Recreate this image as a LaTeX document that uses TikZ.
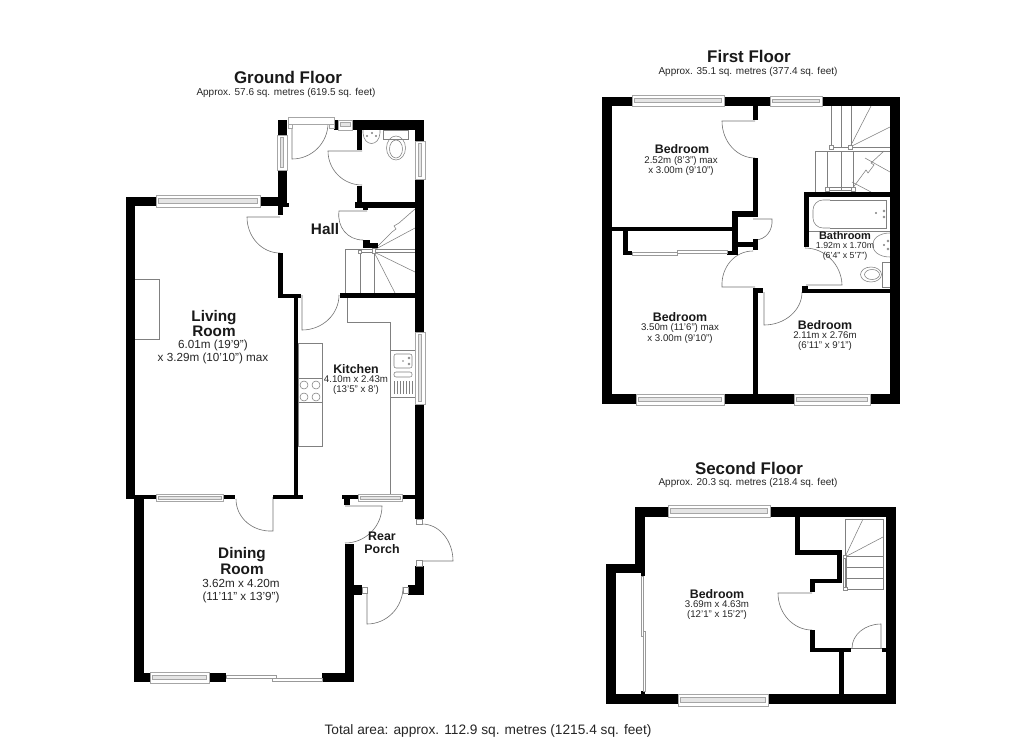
\documentclass[tikz,border=0pt]{standalone}
\usepackage{fontspec}
\setmainfont{Liberation Sans}
\usetikzlibrary{calc}
\tikzset{
  wallfill/.style={fill=black},
  thinline/.style={draw=black!50,line width=0.55pt},
  fixture/.style={draw=black!50,line width=0.55pt},
  doorline/.style={draw=black!55,line width=0.6pt},
  wframe/.style={draw=black!35,fill=white,line width=0.55pt},
  wpane/.style={draw=black!35,fill=black!10,line width=0.4pt},
  slide/.style={draw=black!40,fill=white,line width=0.5pt},
  jamb/.style={draw=black!45,fill=white,line width=0.5pt},
  titletext/.style={font=\fontsize{16.9}{19}\selectfont\bfseries,text=black!90,inner sep=0},
  subtext/.style={font=\fontsize{10}{12}\selectfont,text=black!85,inner sep=0},
  roomlg/.style={font=\fontsize{15.3}{15.5}\selectfont\bfseries,text=black!90,align=center,inner sep=0},
  roomsm/.style={font=\fontsize{12.4}{12.5}\selectfont\bfseries,text=black!90,align=center,inner sep=0},
  dimlg/.style={font=\fontsize{11.7}{13}\selectfont,text=black!85,align=center,inner sep=0},
  dimsm/.style={font=\fontsize{9.7}{10.2}\selectfont,text=black!85,align=center,inner sep=0},
  bathname/.style={font=\fontsize{11}{12}\selectfont\bfseries,text=black!90,inner sep=0},
  bathdim/.style={font=\fontsize{8.8}{10}\selectfont,text=black!85,align=center,inner sep=0},
  totaltext/.style={font=\fontsize{13.7}{15}\selectfont,text=black!85,inner sep=0},
}
\newcommand\wl[4]{\fill[wallfill] (#1,#2) rectangle (#3,#4);}
\newcommand\winh[4]{\draw[wframe] (#1,#2) rectangle (#3,#4);
  \draw[wpane] ($(#1,#2)+(2.5,3)$) rectangle ($(#3,#4)+(-2.5,-4)$);}
\newcommand\winv[4]{\draw[wframe] (#1,#2) rectangle (#3,#4);
  \draw[wpane] ($(#1,#2)+(3,2.5)$) rectangle ($(#3,#4)+(-4,-2.5)$);}
% hinge, leaf end, arc end
\newcommand\drr[6]{\draw[doorline] (#1,#2) -- (#3,#4)
  .. controls ($(#3,#4)!0.5523!(#3+#5-#1,#4+#6-#2)$) and ($(#5,#6)!0.5523!(#3+#5-#1,#4+#6-#2)$) .. (#5,#6);}
\begin{document}
\begin{tikzpicture}[x=1pt,y=-1pt]
\useasboundingbox (0,0) rectangle (1024,744);
\fill[white] (0,0) rectangle (1024,744);

% ---------- titles
\node[titletext] (gt) at (288,77.5) {Ground Floor};
\node[subtext] (gs) at (286,93) {Approx. 57.6 sq. metres (619.5 sq. feet)};
\node[titletext] (ft) at (749,56) {First Floor};
\node[subtext] (fs) at (748,72) {Approx. 35.1 sq. metres (377.4 sq. feet)};
\node[titletext] (st) at (749,468) {Second Floor};
\node[subtext] (ss) at (748,483) {Approx. 20.3 sq. metres (218.4 sq. feet)};
\node[totaltext] (tot) at (488,731) {Total area: approx. 112.9 sq. metres (1215.4 sq. feet)};

% ========== GROUND FLOOR
% chimney breast
\draw[fixture] (135,279) -- (159,279) -- (159,339) -- (135,339);
% kitchen run
\draw[fixture] (347,298) -- (347,322) -- (390,322) -- (390,495);
\draw[fixture] (298,343) rectangle (322,446);
\draw[fixture] (298,378) -- (322,378) (298,402) -- (322,402);
\foreach \cx in {304,316}\foreach \cy in {385,397}\draw[fixture] (\cx,\cy) circle (4pt);
\draw[fixture] (390,350) rectangle (415,397);
\draw[fixture,rounded corners=2pt] (394,354) rectangle (412,368);
\draw[fixture,rounded corners=2pt] (394,372) rectangle (412,377);
\foreach \dx in {394,397,...,412}\draw[fixture,line width=0.4pt] (\dx,381) -- (\dx,394);
\draw[fixture,line width=0.4pt] (403,361) circle (0.7pt) (409,358) circle (1pt) (409,364) circle (1pt);
% ground stairs
\draw[fixture] (345,293) -- (345,249) -- (415,249);
\draw[fixture] (374,252) -- (415,252);
\draw[fixture] (360,252) -- (360,293) (374,252) -- (374,293);
\draw[fixture] (360,252) -- (374,252);
\draw[fixture] (374,250) -- (392,232) -- (396,229) -- (394,226) -- (399,223) (399,223) -- (415,209);
\draw[fixture] (374,250) -- (415,228);
\draw[fixture] (374,252) -- (415,272);
\draw[fixture] (374,252) -- (395,293);
\draw[jamb] (358.5,250.5) rectangle (361.5,253.5);
\draw[jamb] (372.5,248.5) rectangle (375.5,253.5);
% WC
\draw[fixture] (363,130) -- (363,133) .. controls (364,147) and (379,147) .. (380,133) -- (380,130);
\draw[fixture] (372,133) circle (0.7pt) (367,136) circle (0.7pt) (376,136) circle (0.7pt);
\draw[fixture] (383,130) rectangle (408,139);
\draw[fixture] (396,148) ellipse [x radius=9.5pt,y radius=12pt];
\draw[fixture] (396,149) ellipse [x radius=6.5pt,y radius=9pt];
% doors ground
\drr{292}{123}{292}{159}{328}{123}
\drr{362}{151}{328}{151}{362}{185}
\drr{367}{211}{339}{211}{363}{240}
\drr{280}{217}{247}{217}{280}{253}
\drr{302}{295}{302}{330}{339}{295}
\drr{273}{497}{273}{531}{236}{499}
\drr{345}{506}{382}{506}{345}{543}
\drr{422}{561}{453}{561}{422}{524}
\drr{367}{587}{367}{624}{403}{587}
% walls ground
\wl{126}{197}{135}{499}
\wl{126}{197}{156}{206}
\wl{260}{197}{287}{206}
\wl{278}{120}{287}{135}
\wl{278}{170}{287}{207}
\wl{278}{203}{289}{207}
\wl{278}{207}{283}{215}
\wl{278}{253}{283}{298}
\wl{278}{294}{301}{298}
\wl{294}{294}{298}{499}
\wl{126}{495}{156}{499}
\wl{223}{495}{235}{499}
\wl{273}{495}{303}{499}
\wl{134}{499}{144}{682}
\wl{134}{673}{150}{682}
\wl{209}{673}{226}{682}
\wl{322}{673}{354}{682}
\wl{345}{544}{354}{682}
\wl{345}{585}{362}{595}
\wl{334}{120}{338}{130}
\wl{352}{120}{424}{130}
\wl{415}{120}{424}{141}
\wl{415}{179}{424}{332}
\wl{415}{404}{424}{519}
\wl{342}{495}{358}{499}
\wl{344}{499}{350}{505}
\wl{402}{495}{415}{499}
\wl{357}{130}{362}{150}
\wl{357}{186}{362}{205}
\wl{355}{202}{415}{208}
\wl{363}{208}{368}{210}
\wl{363}{240}{370}{248}
\wl{370}{243}{378}{248}
\wl{340}{293}{415}{298}
\wl{415}{566}{424}{595}
\wl{408}{585}{424}{595}
% windows ground
\winh{156}{195}{260}{207}
\winv{277}{135}{287}{170}
\winv{415}{141}{425}{179}
\winv{415}{332}{425}{404}
\draw[wframe] (288,117) rectangle (334,124);
\draw[wframe] (288,124) rectangle (292,128);
\draw[wframe] (329,124) rectangle (334,128);
\draw[wframe] (338,120) rectangle (352,130);
\draw[wpane] (340,122) rectangle (350,126);
\draw[wframe] (156,494) rectangle (223,501);
\draw[wpane] (158,496) rectangle (221,499.5);
\draw[wframe] (358,494) rectangle (402,501);
\draw[wpane] (360,496) rectangle (400,499.5);
\winh{150}{672}{209}{683}
\draw[slide] (226,675) rectangle (276,678);
\draw[slide] (272,678) rectangle (322,681);
\draw[jamb] (416,519) rectangle (422,524);
\draw[jamb] (416,560) rectangle (422,566);
\draw[jamb] (362,587) rectangle (367,593);
\draw[jamb] (403,587) rectangle (408,593);
% ground labels
\node[roomlg] (hall) at (325,229) {Hall};
\node[roomlg] (liv) at (214,323.5) {Living\\Room};
\node[dimlg] (livd) at (213,352) {6.01m (19'9")\\x 3.29m (10'10") max};
\node[roomsm] (kit) at (356,369) {Kitchen};
\node[dimsm] (kitd) at (356,385.5) {4.10m x 2.43m\\(13'5" x 8')};
\node[roomlg] (din) at (242,561) {Dining\\Room};
\node[dimlg] (dind) at (241,591) {3.62m x 4.20m\\(11'11" x 13'9")};
\node[roomsm] (por) at (382,543) {Rear\\Porch};

% ========== FIRST FLOOR
% stairs
\draw[fixture] (831,106) -- (831,147) (841,106) -- (841,147) (851,106) -- (851,147);
\draw[fixture] (831,147) -- (890,147) (815,151) -- (890,151);
\draw[fixture] (815,151) -- (815,192);
\draw[fixture] (827,151) -- (827,190) (841,151) -- (841,190) (853,151) -- (853,190);
\draw[fixture] (850,147) -- (871,106) (850,147) -- (890,127);
\draw[fixture] (852,189) -- (866,170) -- (868,173) -- (874,165) -- (871,163) -- (884,151);
\draw[fixture] (852,182) -- (871,192);
\draw[fixture] (865,158) -- (890,172);
\draw[fixture] (827,187.5) rectangle (852,190.5);
\draw[jamb] (829,145) rectangle (833,149);
\draw[jamb] (848,145) rectangle (852,149);
\draw[jamb] (825,187) rectangle (829,191);
\draw[jamb] (851,187) rectangle (855,191);
% bathroom fittings
\draw[fixture] (809,231) -- (890,231);
\draw[fixture,rounded corners=10pt] (830,200) -- (813,200) -- (813,228) -- (830,228);
\draw[fixture] (830,200) -- (886,200) -- (886,228) -- (830,228);
\draw[fixture] (876,213) circle (0.8pt) (884,211) circle (1pt) (884,217) circle (1pt);
\draw[fixture] (890,233) .. controls (867,233) and (867,257) .. (890,257);
\draw[fixture] (884,245) circle (0.8pt) (888,241) circle (1pt) (888,249) circle (1pt);
\draw[fixture] (882,262) rectangle (890,287);
\draw[fixture] (871,274.5) ellipse [x radius=10.5pt,y radius=7.5pt];
\draw[fixture] (872,274.5) ellipse [x radius=7.5pt,y radius=5pt];
% doors first
\drr{755}{121}{722}{121}{755}{158}
\drr{753}{219}{772}{219}{755}{240}
\drr{755}{287}{722}{287}{753}{251}
\drr{764}{292}{764}{325}{802}{292}
\drr{806}{285}{842}{285}{805}{248}
% walls first
\wl{602}{97}{612}{404}
\wl{602}{97}{632}{106}
\wl{724}{97}{770}{106}
\wl{822}{97}{900}{106}
\wl{890}{97}{900}{404}
\wl{602}{394}{636}{404}
\wl{724}{394}{794}{404}
\wl{870}{394}{900}{404}
\wl{753}{106}{758}{120}
\wl{753}{158}{758}{217}
\wl{732}{211}{758}{217}
\wl{732}{211}{738}{255}
\wl{612}{227}{738}{231}
\wl{735}{242}{758}{247}
\wl{753}{239}{758}{250}
\wl{623}{231}{628}{255}
\wl{623}{251}{632}{255}
\wl{727}{251}{738}{255}
\wl{753}{288}{758}{394}
\wl{753}{288}{763}{293}
\wl{802}{289}{890}{293}
\wl{802}{286}{808}{293}
\wl{804}{192}{809}{247}
\wl{804}{192}{890}{197}
% windows first
\winh{632}{95}{724}{106}
\winh{770}{96}{822}{106}
\winh{636}{394}{724}{405}
\winh{794}{394}{870}{405}
\draw[slide] (632,252) rectangle (677,255);
\draw[slide] (677,250) rectangle (727,253);
% first labels
\node[roomsm] (b1) at (682,149) {Bedroom};
\node[dimsm] (b1d) at (681,166) {2.52m (8'3") max\\x 3.00m (9'10")};
\node[bathname] (ba) at (845,236) {Bathroom};
\node[bathdim] (bad) at (845,251.5) {1.92m x 1.70m\\(6'4" x 5'7")};
\node[roomsm] (b2) at (680,317) {Bedroom};
\node[dimsm] (b2d) at (680,333.5) {3.50m (11'6") max\\x 3.00m (9'10")};
\node[roomsm] (b3) at (825,325) {Bedroom};
\node[dimsm] (b3d) at (825,341.5) {2.11m x 2.76m\\(6'11" x 9'1")};

% ========== SECOND FLOOR
% stairs
\draw[fixture] (845,519) rectangle (883,589);
\draw[fixture] (845,556) -- (883,556) (845,567) -- (883,567) (845,578) -- (883,578);
\draw[fixture] (845,557) -- (863,519) (845,557) -- (883,537);
\draw[fixture] (843.5,556) rectangle (846.5,589);
\draw[jamb] (843.5,555) rectangle (846.5,558);
\draw[jamb] (843.5,587) rectangle (847,590.5);
% doors second
\drr{812}{593}{778}{593}{812}{630}
\drr{881}{648}{881}{624}{852}{648}
\draw[doorline] (851,648) -- (882,648);
% walls second
\wl{635}{507}{668}{517}
\wl{770}{507}{896}{517}
\wl{886}{507}{896}{704}
\wl{606}{694}{678}{704}
\wl{768}{694}{896}{704}
\wl{606}{564}{616}{704}
\wl{606}{564}{645}{573}
\wl{635}{507}{645}{573}
\wl{641}{573}{645}{576}
\wl{641}{691}{645}{694}
\wl{795}{517}{800}{555}
\wl{795}{550}{842}{555}
\wl{837}{550}{842}{583}
\wl{810}{579}{842}{583}
\wl{810}{579}{815}{592}
\wl{810}{630}{815}{652}
\wl{810}{648}{851}{652}
\wl{882}{648}{886}{652}
\wl{839}{652}{844}{694}
% windows second
\winh{668}{505}{770}{517}
\winh{678}{694}{768}{706}
\draw[slide] (641,576) rectangle (643,636);
\draw[slide] (643,631) rectangle (645,691);
% second labels
\node[roomsm] (b4) at (717,594) {Bedroom};
\node[dimsm] (b4d) at (717,610.5) {3.69m x 4.63m\\(12'1" x 15'2")};
\end{tikzpicture}
\end{document}
